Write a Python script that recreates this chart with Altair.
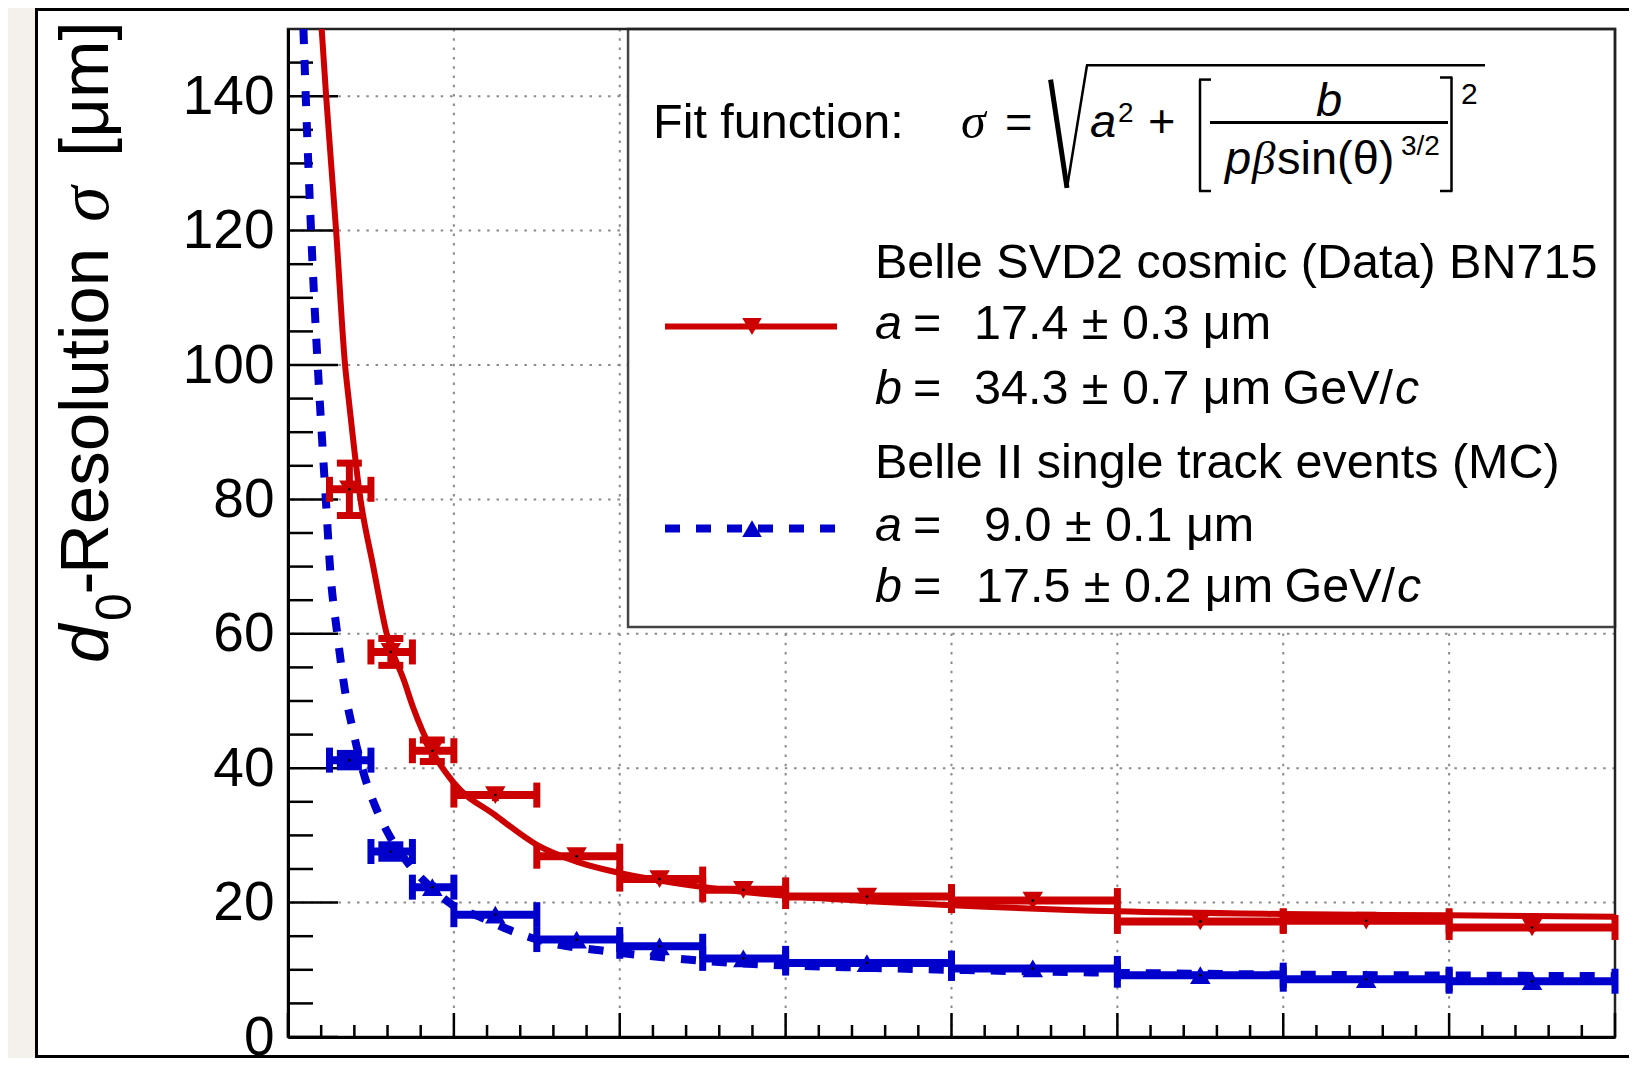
import altair as alt
import pandas as pd

# ---------------- data ----------------
bin_lo = [0.25, 0.5, 0.75, 1.0, 1.5, 2.0, 2.5, 3.0, 4.0, 5.0, 6.0, 7.0]
bin_hi = [0.5, 0.75, 1.0, 1.5, 2.0, 2.5, 3.0, 4.0, 5.0, 6.0, 7.0, 8.0]
bin_center = [0.37, 0.62, 0.87, 1.25, 1.74, 2.24, 2.745, 3.49, 4.49, 5.5, 6.5, 7.5]

red_sigma = [81.5, 57.3, 42.6, 36.0, 26.9, 23.5, 21.9, 20.9, 20.3, 17.2, 17.3, 16.3]
red_err = [3.9, 2.0, 1.6, 0.9, 0.8, 0.7, 0.6, 0.6, 0.6, 0.6, 0.6, 0.6]

blue_sigma = [41.2, 27.6, 22.3, 18.2, 14.5, 13.5, 11.7, 11.0, 10.2, 9.2, 8.6, 8.3]
blue_err = [1.0, 1.0, 0.7, 0.5, 0.5, 0.4, 0.4, 0.4, 0.4, 0.4, 0.4, 0.4]

red_fit_x = [0.203, 0.23, 0.29, 0.344, 0.37, 0.434, 0.514, 0.595, 0.70, 0.755, 0.87, 1.0,
             1.25, 1.5, 1.74, 2.0, 2.48, 3.0, 3.5, 4.0, 5.0, 6.0, 7.0, 8.0]
red_fit_y = [150, 140, 120, 100, 94, 80.5, 70, 60, 53, 49, 42.5, 37.8,
             33.0, 28.6, 26.1, 24.4, 22.4, 21.0, 20.2, 19.6, 18.7, 18.3, 18.1, 17.9]

blue_fit_x = [0.093, 0.107, 0.139, 0.179, 0.193, 0.233, 0.253, 0.297, 0.354, 0.384, 0.414,
              0.474, 0.535, 0.615, 0.723, 0.856, 0.995, 1.157, 1.357, 1.58, 1.88, 2.28,
              2.78, 3.49, 4.0, 4.87, 5.98, 7.0, 8.0]
blue_fit_y = [150, 140, 120, 100, 94, 78, 70, 60, 50, 46.5, 43.2,
              37.8, 33.8, 29.8, 25.9, 22.4, 19.6, 17.9, 15.7, 14.0, 12.9, 11.8,
              10.9, 10.3, 10.0, 9.6, 9.3, 9.15, 9.05]

y_major = [0, 20, 40, 60, 80, 100, 120, 140]
y_minor = [v for v in range(5, 150, 5) if v % 20 != 0]
x_major = [0, 1, 2, 3, 4, 5, 6, 7, 8]
x_minor = [round(i * 0.2, 1) for i in range(1, 40) if i % 5 != 0]
x_grid = [1, 2, 3, 4, 5, 6, 7]
y_grid = [20, 40, 60, 80, 100, 120, 140]

legend_box = {"x1": [2.05], "x2": [8.0], "y1": [61.0], "y2": [150.0]}

# ---------------- styling ----------------
RED = "#cc0000"
BLUE = "#0000cc"
FONT = "Liberation Sans"
SERIF = "Liberation Serif"
W, H = 1327, 1008

XS = alt.Scale(domain=[0, 8], nice=False, zero=False)
YS = alt.Scale(domain=[0, 150], nice=False, zero=False)
XAX = alt.Axis(labels=False, ticks=False, tickSize=0, grid=False, domain=True,
               domainColor="black", domainWidth=3, title=None, zindex=1)
YAX = alt.Axis(values=y_major, ticks=False, tickSize=0, grid=False, domain=True,
               domainColor="black", domainWidth=3, labelFont=FONT, labelFontSize=55,
               labelColor="black", labelPadding=14, labelOverlap=False, labelBound=False,
               title=None, zindex=1)


def X(f):
    return alt.X(f, type="quantitative", scale=XS, axis=XAX)


def Y(f):
    return alt.Y(f, type="quantitative", scale=YS, axis=YAX)


pts = pd.DataFrame({
    "x": bin_center, "lo": bin_lo, "hi": bin_hi,
    "red": red_sigma, "blue": blue_sigma,
    "rerr": red_err, "berr": blue_err,
})
pts["rlo"] = [s - e for s, e in zip(red_sigma, red_err)]
pts["rhi"] = [s + e for s, e in zip(red_sigma, red_err)]
pts["blo"] = [s - e for s, e in zip(blue_sigma, blue_err)]
pts["bhi"] = [s + e for s, e in zip(blue_sigma, blue_err)]

red_fit = pd.DataFrame({"px": red_fit_x, "s": red_fit_y})
blue_fit = pd.DataFrame({"px": blue_fit_x, "s": blue_fit_y})
one = pd.DataFrame({"k": [0]})

layers = []

# white canvas with black border (page decoration)
layers.append(alt.Chart(one).mark_rect(fill="white", stroke="black", strokeWidth=3).encode(
    x=alt.value(-251.5), x2=alt.value(1400), y=alt.value(-19.5), y2=alt.value(1027.5)))

# grid
layers.append(alt.Chart(pd.DataFrame({"g": x_grid})).mark_rule(
    color="#8a8a8a", strokeWidth=2, strokeDash=[2.5, 6.8]).encode(x=X("g")))
layers.append(alt.Chart(pd.DataFrame({"g": y_grid})).mark_rule(
    color="#8a8a8a", strokeWidth=2, strokeDash=[2.5, 6.8]).encode(y=Y("g")))

# legend box
layers.append(alt.Chart(pd.DataFrame(legend_box)).mark_rect(
    fill="white", stroke="#444444", strokeWidth=2.5).encode(
    x=X("x1"), x2="x2", y=Y("y1"), y2="y2"))

# frame
layers.append(alt.Chart(pd.DataFrame({"a": [0], "b": [8], "c": [0], "d": [150]})).mark_rect(
    fillOpacity=0, stroke="#222222", strokeWidth=2.5).encode(
    x=X("a"), x2="b", y=Y("c"), y2="d"))

# ticks (inward)
layers.append(alt.Chart(pd.DataFrame({"v": y_major})).mark_rule(color="black", strokeWidth=2.5).encode(
    y=Y("v"), x=alt.value(0), x2=alt.value(50)))
layers.append(alt.Chart(pd.DataFrame({"v": y_minor})).mark_rule(color="black", strokeWidth=2.5).encode(
    y=Y("v"), x=alt.value(0), x2=alt.value(25)))
layers.append(alt.Chart(pd.DataFrame({"v": x_major})).mark_rule(color="black", strokeWidth=2.5).encode(
    x=X("v"), y=alt.value(H), y2=alt.value(H - 24)))
layers.append(alt.Chart(pd.DataFrame({"v": x_minor})).mark_rule(color="black", strokeWidth=2.5).encode(
    x=X("v"), y=alt.value(H), y2=alt.value(H - 12)))

# fit curves
layers.append(alt.Chart(red_fit).mark_line(color=RED, strokeWidth=6, interpolate="monotone", clip=True).encode(
    x=X("px"), y=Y("s"), order="px:Q"))
layers.append(alt.Chart(blue_fit).mark_line(color=BLUE, strokeWidth=8, strokeDash=[15, 16],
                                           interpolate="monotone", clip=True).encode(
    x=X("px"), y=Y("s"), order="px:Q"))


def series(col, err, lo, hi, color, shape):
    out = []
    base = alt.Chart(pts)
    out.append(base.mark_rule(color=color, strokeWidth=8).encode(x=X("lo"), x2="hi", y=Y(col)))
    out.append(base.mark_rule(color=color, strokeWidth=7).encode(x=X("x"), y=Y(lo), y2=hi))
    for e in ("lo", "hi"):
        out.append(base.mark_rule(color=color, strokeWidth=7, yOffset=-12.5, y2Offset=12.5).encode(
            x=X(e), y=Y(col), y2=col))
    capped = base.transform_filter(f"datum.{err} >= 1")
    for e in (lo, hi):
        out.append(capped.mark_rule(color=color, strokeWidth=7, xOffset=-12.5, x2Offset=12.5).encode(
            x=X("x"), x2="x", y=Y(e)))
    out.append(base.mark_point(shape=shape, filled=True, size=420, color=color, opacity=1).encode(
        x=X("x"), y=Y(col)))
    out.append(base.mark_point(shape="circle", filled=True, size=7, color="black", opacity=1).encode(
        x=X("x"), y=Y(col)))
    return out


layers += series("red", "rerr", "rlo", "rhi", RED, "triangle-down")
layers += series("blue", "berr", "blo", "bhi", BLUE, "triangle-up")


def txt(text, x, y, size, italic=False, font=FONT, angle=0, align="left"):
    kw = dict(text=text, font=font, fontSize=size, align=align, baseline="alphabetic",
              color="black", fontStyle="italic" if italic else "normal")
    if angle:
        kw["angle"] = angle
    return alt.Chart(one).mark_text(**kw).encode(x=alt.value(x), y=alt.value(y))


def seg(x1, y1, x2, y2, w, color="black", dash=None):
    kw = dict(strokeWidth=w, color=color, strokeCap="butt")
    if dash:
        kw["strokeDash"] = dash
    return alt.Chart(one).mark_rule(**kw).encode(
        x=alt.value(x1), y=alt.value(y1), x2=alt.value(x2), y2=alt.value(y2))


LS = 48.5
FS = 47
# fit function formula
layers.append(txt("Fit function:", 365, 109, LS))
layers.append(txt("σ", 673, 109, 50, italic=True, font=SERIF))
layers.append(txt("=", 717, 109, FS))
layers.append(seg(762.6, 50.6, 779, 158.8, 5))
layers.append(seg(779, 158.8, 799, 36.3, 2.5))
layers.append(seg(798, 36.3, 1197, 36.3, 2.5))
layers.append(txt("a", 802, 108, FS, italic=True))
layers.append(txt("2", 830, 93, 28))
layers.append(txt("+", 860, 108, FS))
layers.append(seg(912, 50.6, 912, 162, 2.5))
layers.append(seg(911, 50.6, 923, 50.6, 2.5))
layers.append(seg(911, 162, 923, 162, 2.5))
layers.append(seg(1163.5, 48.5, 1163.5, 162, 2.5))
layers.append(seg(1152, 48.5, 1164.5, 48.5, 2.5))
layers.append(seg(1152, 162, 1164.5, 162, 2.5))
layers.append(seg(922, 93.4, 1160, 93.4, 3))
layers.append(txt("b", 1041, 87, FS, italic=True, align="center"))
layers.append(txt("p", 937, 144.5, FS, italic=True))
layers.append(txt("β", 964, 144.5, FS, italic=True, font=SERIF))
layers.append(txt("sin(θ)", 989, 144.5, FS))
layers.append(txt("3/2", 1113, 126, 28))
layers.append(txt("2", 1173, 75, 30))

# legend entries
layers.append(seg(377, 297.5, 549, 297.5, 6, RED))
layers.append(alt.Chart(one).mark_point(shape="triangle-down", filled=True, size=380, color=RED, opacity=1).encode(
    x=alt.value(464), y=alt.value(297.5)))
layers.append(seg(377, 499.6, 549, 499.6, 8, BLUE, dash=[15, 16]))
layers.append(alt.Chart(one).mark_point(shape="triangle-up", filled=True, size=380, color=BLUE, opacity=1).encode(
    x=alt.value(464), y=alt.value(499.6)))

layers.append(txt("Belle SVD2 cosmic (Data) BN715", 587, 248.5, LS))
layers.append(txt("a", 587, 310, LS, italic=True))
layers.append(txt("=", 625, 310, LS))
layers.append(txt("17.4 ± 0.3 μm", 686, 310, LS))
layers.append(txt("b", 587, 375, LS, italic=True))
layers.append(txt("=", 625, 375, LS))
layers.append(txt("34.3 ± 0.7 μm", 686, 375, LS))
layers.append(txt("GeV/", 1105, 375, LS, align="right"))
layers.append(txt("c", 1107, 375, LS, italic=True))
layers.append(txt("Belle II single track events (MC)", 587, 448.5, LS))
layers.append(txt("a", 587, 512, LS, italic=True))
layers.append(txt("=", 625, 512, LS))
layers.append(txt("9.0 ± 0.1 μm", 696, 512, LS))
layers.append(txt("b", 587, 573, LS, italic=True))
layers.append(txt("=", 625, 573, LS))
layers.append(txt("17.5 ± 0.2 μm", 688, 573, LS))
layers.append(txt("GeV/", 1107, 573, LS, align="right"))
layers.append(txt("c", 1109, 573, LS, italic=True))

# y axis title (rotated pieces)
TS = 69
layers.append(txt("d", -180, 634, TS, italic=True, angle=270))
layers.append(txt("0", -157, 592, 50, angle=270))
layers.append(txt("-", -180, 554, TS, angle=270, align="center"))
layers.append(txt("Resolution", -180, 545, TS, angle=270))
layers.append(txt("σ", -180, 193, 72, italic=True, font=SERIF, angle=270))
layers.append(txt("[μm]", -180, 128, TS, angle=270))

chart = alt.layer(*layers).properties(
    width=W, height=H,
    background="#f4f1ec",
    padding={"left": 280, "top": 21, "right": 14, "bottom": 21},
    autosize=alt.AutoSizeParams(type="none"),
).configure_view(strokeWidth=0)

chart.save("out.html", embed_options={"renderer": "svg", "actions": False})
